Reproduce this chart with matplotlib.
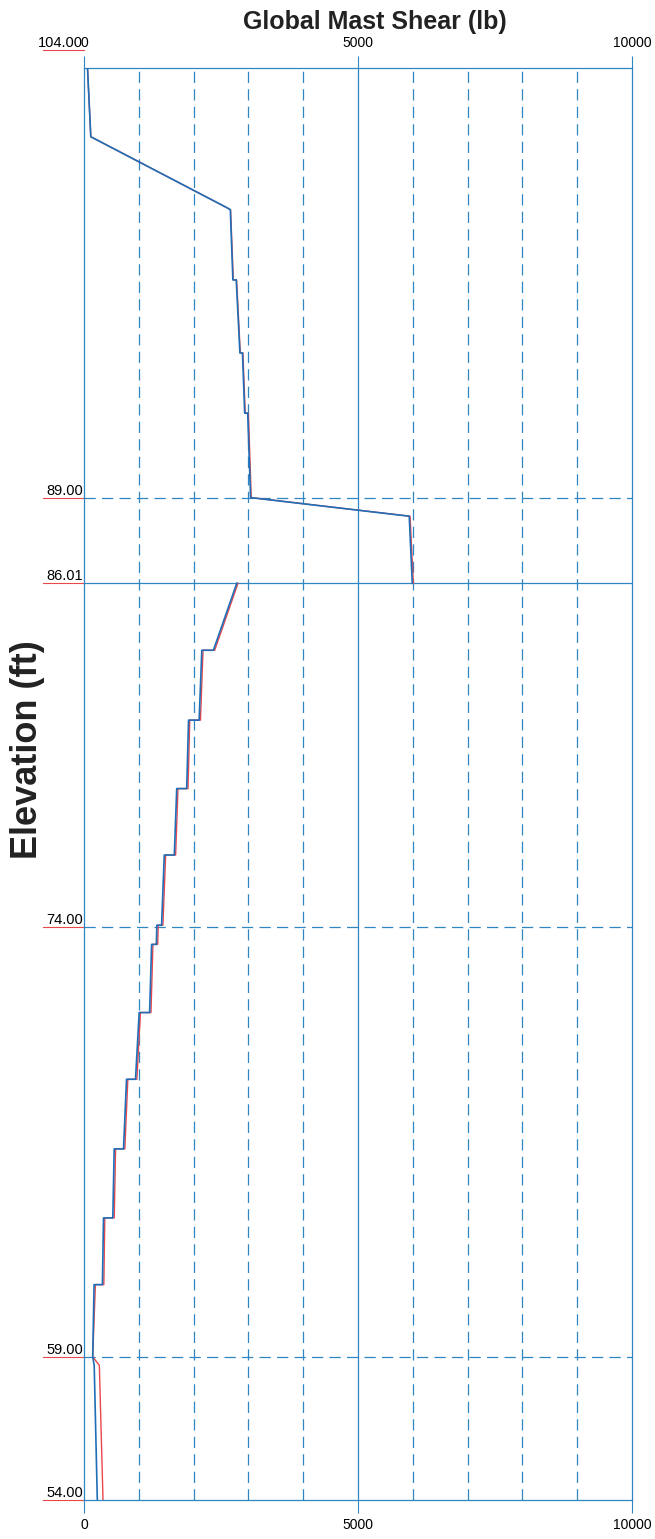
import matplotlib.pyplot as plt
from matplotlib.transforms import blended_transform_factory, offset_copy

# Shear along the mast, upper section (top of mast down to the 86.01 ft joint)
upper_elev = [104.0, 101.6, 99.12, 99.05, 96.6, 96.6, 94.05, 94.05, 91.95, 91.95, 89.0, 88.35, 86.01]
upper_blue = [64, 124, 2610, 2670, 2717, 2778, 2845, 2892, 2932, 2987, 3040, 5935, 5990]
upper_red = [64, 124, 2610, 2675, 2725, 2785, 2852, 2900, 2942, 3000, 3052, 5950, 6010]

# Lower section (86.01 ft down to the base at 54 ft)
lower_elev = [86.01, 83.67, 83.67, 81.23, 81.23, 78.84, 78.84, 76.52, 76.52, 74.07, 74.07,
              73.4, 73.4, 71.02, 71.02, 68.69, 68.69, 66.26, 66.26, 63.85, 63.85, 61.52,
              61.52, 59.0, 58.7, 54.0]
lower_blue = [2788, 2361, 2150, 2101, 1908, 1874, 1692, 1648, 1465, 1416, 1330, 1320, 1234,
              1197, 1007, 940, 776, 721, 551, 526, 356, 336, 184, 159, 186, 243]
lower_red = [2810, 2385, 2172, 2125, 1930, 1898, 1715, 1672, 1490, 1440, 1355, 1345, 1258,
             1222, 1030, 965, 800, 745, 576, 552, 380, 362, 208, 159, 280, 347]

elev_ticks = [104.0, 89.0, 86.01, 74.0, 59.0, 54.0]
elev_labels = ['104.00', '89.00', '86.01', '74.00', '59.00', '54.00']
shear_ticks = [0, 5000, 10000]
shear_labels = ['0', '5000', '10000']
minor_shear = [1000, 2000, 3000, 4000, 6000, 7000, 8000, 9000]

grid_col = '#2f86c0'
blue = '#1f6fb8'
red = '#e8474c'
dash = (0, (9, 5))

plt.rcParams['font.family'] = ['Liberation Sans', 'DejaVu Sans']

fig = plt.figure(figsize=(6.55, 15.39), dpi=100)
ax = fig.add_axes([84 / 655, 39 / 1539, 548 / 655, 1432 / 1539])
ax.set_xlim(0, 10000)
ax.set_ylim(54, 104)

# grid
for x in minor_shear:
    ax.axvline(x, color=grid_col, lw=0.9, ls=dash, zorder=1)
ax.axvline(5000, color=grid_col, lw=0.9, zorder=1)
for y in [89.0, 74.0, 59.0]:
    ax.axhline(y, color=grid_col, lw=0.9, ls=dash, zorder=1)
ax.axhline(86.01, color=grid_col, lw=0.9, zorder=1)

# shear curves, red drawn first so blue sits on top
ax.plot(upper_red, upper_elev, color=red, lw=1.0, zorder=2)
ax.plot(lower_red, lower_elev, color=red, lw=1.0, zorder=2)
ax.plot(upper_blue, upper_elev, color=blue, lw=1.2, zorder=3)
ax.plot(lower_blue, lower_elev, color=blue, lw=1.2, zorder=3)

for s in ax.spines.values():
    s.set_color(grid_col)
    s.set_linewidth(0.9)

ax.set_xticks(shear_ticks)
ax.set_xticklabels(shear_labels)
ax.tick_params(axis='x', top=True, labeltop=True, bottom=True, labelbottom=True,
               direction='out', length=9, width=0.8, color=grid_col, pad=4,
               labelsize=10)
ax.set_yticks([])

# elevation labels with red underline, sitting on their lines
trans = blended_transform_factory(ax.transAxes, ax.transData)
for y, lab in zip(elev_ticks, elev_labels):
    t = trans
    if y == 104.0:
        t = offset_copy(trans, fig=fig, y=18, units='dots')
    ax.plot([-0.075, 0.0], [y, y], transform=t, color=red, lw=0.8, clip_on=False)
    ax.text(-0.002, y, lab, transform=t, ha='right', va='bottom', fontsize=10.5)

fig.text(375 / 655, 1 - 22 / 1539, 'Global Mast Shear (lb)', ha='center', va='center',
         fontsize=18, fontweight='bold', color='#222222')
fig.text(28 / 655, 1 - 750 / 1539, 'Elevation (ft)', ha='center', va='center',
         rotation=90, fontsize=26, fontweight='bold', color='#222222')

fig.savefig('out.png', dpi=100)
